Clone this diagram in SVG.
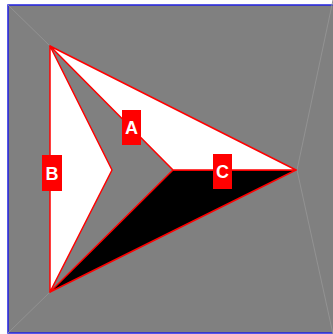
<svg xmlns="http://www.w3.org/2000/svg" width="333" height="334" viewBox="0 0 333 334">
<style>
.shape{stroke:#ff0000;stroke-width:1.5;stroke-linejoin:round}
.guide{stroke:#929292;stroke-width:1;fill:none}
.lbl{fill:#ff0000}
.txt{fill:#ffffff;font-family:"Liberation Sans",Arial,sans-serif;font-weight:bold;font-size:18px;text-anchor:middle}
</style>
<rect x="0" y="0" width="333" height="334" fill="#ffffff"/>
<rect x="8" y="5" width="345" height="328" fill="#808080" stroke="#2020e0" stroke-width="1.5"/>
<g id="connectors">
<line class="guide" x1="8" y1="5" x2="50" y2="46"/>
<line class="guide" x1="8" y1="333" x2="50" y2="292"/>
<line class="guide" x1="297" y1="170" x2="333" y2="0"/>
<line class="guide" x1="297" y1="170" x2="333" y2="334"/>
</g>
<g id="nodeC">
<polygon class="shape" points="173,170 296,170 50,292" fill="#000000"/>
</g>
<g id="nodeA">
<polygon class="shape" points="50,46 296,170 173,170" fill="#ffffff"/>
</g>
<g id="nodeB">
<polygon class="shape" points="50,46 112,170 50,292" fill="#ffffff"/>
</g>
<g id="labelA">
<rect class="lbl" x="122" y="110" width="19" height="35"/>
<text class="txt" x="131.5" y="134">A</text>
</g>
<g id="labelB">
<rect class="lbl" x="42" y="155" width="20" height="36"/>
<text class="txt" x="52" y="179.5">B</text>
</g>
<g id="labelC">
<rect class="lbl" x="213" y="154" width="19" height="35"/>
<text class="txt" x="222.5" y="178">C</text>
</g>
</svg>
